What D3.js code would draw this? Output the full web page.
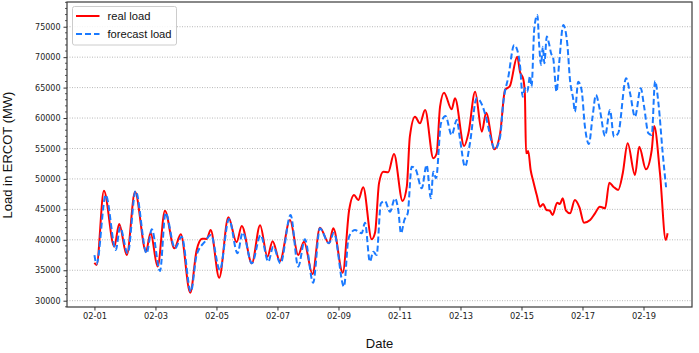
<!DOCTYPE html>
<html>
<head>
<meta charset="utf-8">
<script src="https://cdn.jsdelivr.net/npm/d3@7/dist/d3.min.js"></script>
<style>
  html, body { margin: 0; padding: 0; background: #fff; }
  svg { display: block; }
</style>
</head>
<body>
<svg id="chart" width="699" height="353"></svg>
<script>
// ---- Data (days since 2021-02-01 00:00, load in MW) ----
const realDays = [0.0,0.07,0.31,0.65,0.81,1.06,1.33,1.69,1.84,2.07,2.31,2.62,2.83,3.14,3.35,3.53,3.68,3.81,4.09,4.39,4.66,4.83,5.16,5.43,5.67,5.84,6.08,6.41,6.68,6.87,7.15,7.39,7.69,7.83,8.14,8.35,8.51,8.65,8.81,9.09,9.2,9.33,9.47,9.63,9.82,10.10,10.24,10.34,10.51,10.67,10.84,11.11,11.22,11.33,11.46,11.71,11.82,12.12,12.26,12.48,12.70,12.84,13.11,13.30,13.46,13.62,13.86,13.95,14.06,14.11,14.15,14.22,14.30,14.39,14.50,14.61,14.71,14.82,14.93,15.02,15.17,15.26,15.35,15.46,15.59,15.75,15.90,16.05,16.25,16.41,16.57,16.74,16.88,17.01,17.17,17.32,17.48,17.72,17.86,18.08,18.27,18.35,18.54,18.73,18.79];
const realLoad = [36240,35860,48070,38870,42600,37500,47900,38050,41170,35600,44780,38600,40900,31300,38300,40180,40150,41600,33780,43700,39600,42270,36140,42400,37230,39780,36500,43260,37500,39700,34390,41990,39430,41890,34600,44900,47360,46540,48630,40080,41200,49300,51190,51090,54100,46380,48730,56940,60220,59140,61320,53390,54210,61870,64170,61440,63250,55410,57490,64330,57760,60880,54860,57490,64610,65270,70080,67620,66360,64070,54210,54590,51470,49550,47360,45440,45880,44900,44780,44080,46100,45880,46820,44780,44350,46540,45340,42810,43260,44350,45440,45170,49380,48730,48190,50930,55860,50650,55300,51580,54750,58690,50930,39970,41070];

const forecastDays = [0.0,0.07,0.37,0.70,0.84,1.09,1.35,1.71,1.88,2.15,2.33,2.64,2.86,3.16,3.35,3.62,3.82,4.11,4.41,4.69,4.86,5.16,5.45,5.70,5.86,6.10,6.43,6.68,6.90,7.17,7.39,7.69,7.85,8.18,8.32,8.43,8.54,8.76,8.87,9.03,9.14,9.25,9.39,9.52,9.69,9.85,9.96,10.05,10.16,10.27,10.40,10.53,10.73,10.89,11.03,11.11,11.20,11.36,11.51,11.71,11.88,11.98,12.15,12.31,12.53,12.70,12.86,13.02,13.13,13.30,13.40,13.57,13.76,13.86,13.95,14.04,14.11,14.19,14.28,14.33,14.42,14.52,14.58,14.64,14.70,14.75,14.83,14.90,14.97,15.04,15.15,15.23,15.37,15.50,15.59,15.70,15.75,15.86,15.97,16.08,16.21,16.33,16.44,16.57,16.74,16.90,17.03,17.17,17.43,17.56,17.72,17.91,18.02,18.16,18.27,18.38,18.49,18.63,18.74];
const forecastLoad = [37500,36030,47360,38330,42050,37780,48020,37780,41720,34880,44450,38600,40520,31480,37500,39700,40790,35040,43400,37800,41200,36140,40770,36400,38870,36140,44080,35590,40080,32960,41890,39430,41170,32300,39970,41240,41610,41070,42810,36400,38050,37500,46000,46380,44620,46820,44900,41070,43260,44350,52010,51580,48460,52290,46820,51190,50100,59140,60340,57220,59680,56680,52010,55860,63250,62260,59680,56120,54860,56940,62420,66800,72000,71180,68720,63510,64900,64330,66910,65160,74740,76930,72000,68720,71720,69000,73400,72280,70640,69820,64330,68720,75280,72280,66250,62970,61050,65970,64610,58580,55740,60220,63790,61320,57050,61320,56940,57490,66530,64070,60220,64890,61870,57490,57220,66090,62420,54210,48630];

const yTicks = [30000,35000,40000,45000,50000,55000,60000,65000,70000,75000];
const seriesNames = ["real load", "forecast load"];
const seriesColors = ["#ff0000", "#1a7aff"];

// ---- Layout ----
const svg = d3.select("#chart");
const L = 67, R = 692, T = 2, B = 307;
const base = Date.UTC(2021, 1, 1);
const dayMs = 86400000;
const toDate = d => new Date(base + d * dayMs);

const x = d3.scaleUtc()
  .domain([toDate(-0.9), toDate(19.59)])
  .range([L, R]);
const y = d3.scaleLinear()
  .domain([28965, 79060])
  .range([B, T]);

// gridlines
svg.append("g")
  .selectAll("line")
  .data(yTicks)
  .join("line")
  .attr("x1", L).attr("x2", R)
  .attr("y1", d => y(d)).attr("y2", d => y(d))
  .attr("stroke", "#b8b8b8")
  .attr("stroke-width", 1)
  .attr("stroke-dasharray", "1,1.5");

// clip
svg.append("defs").append("clipPath").attr("id", "clip")
  .append("rect").attr("x", L).attr("y", T).attr("width", R - L).attr("height", B - T);

const line = d3.line()
  .x(d => x(toDate(d[0])))
  .y(d => y(d[1]))
  .curve(d3.curveMonotoneX);

const realData = realDays.map((d, i) => [d, realLoad[i]]);
const fcData = forecastDays.map((d, i) => [d, forecastLoad[i]]);

const plot = svg.append("g").attr("clip-path", "url(#clip)");
plot.append("path").datum(realData)
  .attr("d", line).attr("fill", "none")
  .attr("stroke", seriesColors[0]).attr("stroke-width", 2)
  .attr("stroke-linejoin", "round");
plot.append("path").datum(fcData)
  .attr("d", line).attr("fill", "none")
  .attr("stroke", seriesColors[1]).attr("stroke-width", 2)
  .attr("stroke-dasharray", "6,3");

// frame
svg.append("rect")
  .attr("x", L).attr("y", T).attr("width", R - L).attr("height", B - T)
  .attr("fill", "none").attr("stroke", "#3a3a3a").attr("stroke-width", 1.2);

// y axis
const yAxis = d3.axisLeft(y).tickValues(yTicks).tickSize(3.5).tickPadding(3).tickFormat(d3.format("d"));
const gy = svg.append("g").attr("transform", `translate(${L},0)`).call(yAxis);
gy.select(".domain").remove();
gy.selectAll("text").attr("font-family", "DejaVu Sans, Verdana, sans-serif").attr("font-size", 8).attr("fill", "#222");
gy.selectAll("line").attr("stroke", "#333");

// y minor ticks
const minor = d3.range(29000, 79001, 1000).filter(v => v % 5000 !== 0);
svg.append("g").selectAll("line").data(minor).join("line")
  .attr("x1", L - 2).attr("x2", L)
  .attr("y1", d => y(d)).attr("y2", d => y(d))
  .attr("stroke", "#333").attr("stroke-width", 0.8);

// x axis
const xAxis = d3.axisBottom(x)
  .ticks(d3.utcDay.every(2))
  .tickSize(3.5).tickPadding(3)
  .tickFormat(d3.utcFormat("%m-%d"));
const gx = svg.append("g").attr("transform", `translate(0,${B})`).call(xAxis);
gx.select(".domain").remove();
gx.selectAll("text").attr("font-family", "DejaVu Sans, Verdana, sans-serif").attr("font-size", 8.3).attr("fill", "#222");
gx.selectAll("line").attr("stroke", "#333");

// axis labels
svg.append("text")
  .attr("x", (L + R) / 2).attr("y", 348)
  .attr("text-anchor", "middle")
  .attr("font-family", "Liberation Sans, Arial, sans-serif")
  .attr("font-size", 13).attr("fill", "#111")
  .text("Date");
svg.append("text")
  .attr("transform", `translate(12,155) rotate(-90)`)
  .attr("text-anchor", "middle")
  .attr("font-family", "Liberation Sans, Arial, sans-serif")
  .attr("font-size", 13).attr("fill", "#111")
  .text("Load in ERCOT (MW)");

// legend
const lg = svg.append("g");
lg.append("rect")
  .attr("x", 72.5).attr("y", 6.5).attr("width", 104).attr("height", 38.5)
  .attr("rx", 2).attr("fill", "#fff").attr("fill-opacity", 0.85)
  .attr("stroke", "#cccccc").attr("stroke-width", 1);
seriesNames.forEach((name, i) => {
  const yy = 16 + i * 18;
  lg.append("line")
    .attr("x1", 76).attr("x2", 99.5).attr("y1", yy).attr("y2", yy)
    .attr("stroke", seriesColors[i]).attr("stroke-width", 2)
    .attr("stroke-dasharray", i === 1 ? "6,3" : null);
  lg.append("text")
    .attr("x", 107.5).attr("y", yy + 4)
    .attr("font-family", "Liberation Sans, Arial, sans-serif")
    .attr("font-size", 11.2).attr("fill", "#111")
    .text(name);
});
</script>
</body>
</html>
